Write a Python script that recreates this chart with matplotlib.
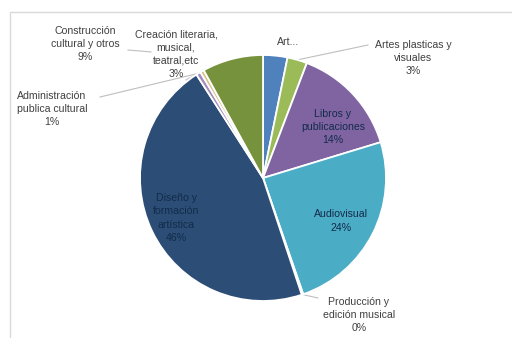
import numpy as np
import matplotlib
matplotlib.use("Agg")
import matplotlib.pyplot as plt
from matplotlib.patches import Rectangle

# slices, clockwise from 12 o'clock
names = ["Art...", "Artes plasticas y\nvisuales", "Libros y\npublicaciones", "Audiovisual",
         "Producción y\nedición musical", "Diseño y\nformación\nartística",
         "Administración\npublica cultural", "Creación literaria,\nmusical,\nteatral,etc",
         "Construcción\ncultural y otros"]
values = [3.2, 2.6, 14.5, 24.4, 0.2, 46.0, 0.6, 0.5, 8.0]
pct_text = ["", "3%", "14%", "24%", "0%", "46%", "1%", "3%", "9%"]
colors = ["#4F81BD", "#9BBB59", "#8064A2", "#4BACC6", "#F79646",
          "#2C4D75", "#A28CC0", "#D9C38A", "#76923C"]

W, H = 512, 338
cx, cy, R = 263, 178, 123

fig = plt.figure(figsize=(W / 100, H / 100), dpi=100)
fig.patches.append(Rectangle((10 / W, -0.05), 1.1, 1 - 12 / H + 0.05, transform=fig.transFigure,
                             fill=False, edgecolor="#d9d9d9", linewidth=1))

ax = fig.add_axes([(cx - R) / W, (H - cy - R) / H, 2 * R / W, 2 * R / H])
ax.axis("off")

wedges, _ = ax.pie(values, colors=colors, startangle=90, counterclock=False, radius=1,
                   wedgeprops=dict(edgecolor="white", linewidth=1.3))
ax.set_xlim(-1, 1)
ax.set_ylim(-1, 1)


def px(x, y):
    return (x - cx) / R, (cy - y) / R


def edge(i, r=1.0):
    w = wedges[i]
    a = np.deg2rad((w.theta1 + w.theta2) / 2)
    return r * np.cos(a), r * np.sin(a)


out_col = "#404040"
in_col = "#122B4A"
fs = 7.6

# label position (pixels), inside flag, leader line start (pixels) or None
label_pos = [(288, 42), (413, 58), (333, 127), (341, 221), (359, 315),
             (176, 218), (52, 109), (176, 54), (85, 44)]
inside = [False, False, True, True, False, True, False, False, False]
leader_from = [None, (368, 45), None, None, (318, 298), None, (100, 97), (186, 80), (128, 50)]
# fraction of the leader drawn (the rest sits behind another label)
leader_part = [1, 1, 1, 1, 1, 1, 1, 1, 0.22]

for i, name in enumerate(names):
    txt = name if pct_text[i] == "" else name + "\n" + pct_text[i]
    x, y = px(*label_pos[i])
    ax.text(x, y, txt, ha="center", va="center", fontsize=fs, linespacing=1.4,
            color=in_col if inside[i] else out_col, family="Liberation Sans",
            clip_on=False, zorder=5)
    if leader_from[i] is not None:
        lx, ly = px(*leader_from[i])
        ex, ey = edge(i, 1.0)
        f = leader_part[i]
        ax.plot([lx, lx + f * (ex - lx)], [ly, ly + f * (ey - ly)], color="#bfbfbf", lw=0.8,
                clip_on=False, zorder=0.5)

fig.savefig("out.png", dpi=100)
